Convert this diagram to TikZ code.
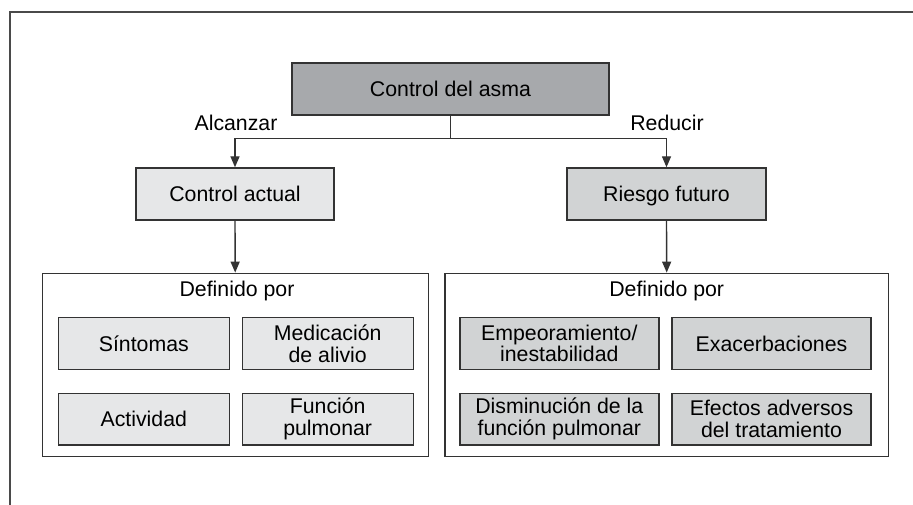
\documentclass[tikz,border=0pt]{standalone}
\usepackage{fontspec}
\setmainfont{Liberation Sans}
\usetikzlibrary{arrows.meta}
\definecolor{topgray}{HTML}{A7A9AC}
\definecolor{lightbox}{HTML}{E6E7E8}
\definecolor{midbox}{HTML}{D1D3D4}
\definecolor{linegray}{HTML}{333333}
\definecolor{framegray}{HTML}{4A4A4A}
\tikzset{
  base/.style={draw=linegray, line width=1.4pt, inner sep=0pt, align=center,
    font=\fontsize{21.3pt}{21.7pt}\selectfont, text=black},
  oneline/.style={text height=15.4pt, text depth=0pt},
  topbox/.style={base, fill=topgray, minimum width=317pt, minimum height=52pt},
  lvbox/.style={base, fill=lightbox, minimum width=198pt, minimum height=52pt},
  rvbox/.style={base, fill=midbox, minimum width=199pt, minimum height=52pt},
  container/.style={draw=linegray, line width=1.4pt, inner sep=0pt, minimum height=183.4pt},
  litem/.style={base, fill=lightbox, minimum width=171pt, minimum height=51.6pt},
  ritem/.style={base, fill=midbox, minimum width=199pt, minimum height=51.6pt},
  lbl/.style={font=\fontsize{21.3pt}{21.7pt}\selectfont, inner sep=0pt, anchor=base},
  arr/.style={draw=linegray, line width=1.4pt, -{Triangle[length=11pt,width=9pt]}},
  conn/.style={draw=linegray, line width=1.4pt}
}
\begin{document}
\begin{tikzpicture}[x=1pt,y=-1pt]
\useasboundingbox (0,0) rectangle (913,505);
% outer frame (top and left edges)
\draw[framegray, line width=2pt] (913,11.7) -- (9.5,11.7) -- (9.5,505);

\node[topbox, oneline] (top) at (450.5,89) {Control del asma};
\node[lvbox, oneline] (actual) at (235,194) {Control actual};
\node[rvbox, oneline] (riesgo) at (666.5,194) {Riesgo futuro};

\node[lbl] (alc) at (236,130.7) {Alcanzar};
\node[lbl] (red) at (667,130.7) {Reducir};

\coordinate (j) at (450.5,138.3);
\draw[conn] (top.south) -- (j);
\draw[arr] (j) -| (actual.north);
\draw[arr] (j) -| (riesgo.north);

\node[container, minimum width=386pt] (lbox) at (235.2,365) {};
\node[container, minimum width=443.3pt] (rbox) at (666.7,365) {};

\draw[arr] (actual.south) -- (lbox.north);
\draw[arr] (riesgo.south) -- (rbox.north);

\node[lbl] (ldef) at (237,296.7) {Definido por};
\node[lbl] (rdef) at (666.7,296.7) {Definido por};

\node[litem, oneline] (sint) at (143.8,343.5) {Síntomas};
\node[litem] (medic) at (327.7,343.5) {Medicación\\de alivio};
\node[litem, oneline] (activ) at (143.8,419.2) {Actividad};
\node[litem] (func) at (327.7,419.2) {Función\\pulmonar};

\node[ritem] (empeo) at (559.3,343.5) {Empeoramiento/\\inestabilidad};
\node[ritem, oneline] (exac) at (771.5,343.5) {Exacerbaciones};
\node[ritem] (dismi) at (559.3,419.2) {Disminución de la\\función pulmonar};
\node[ritem] (efect) at (771.5,419.2) {Efectos adversos\\del tratamiento};
\end{tikzpicture}
\end{document}
